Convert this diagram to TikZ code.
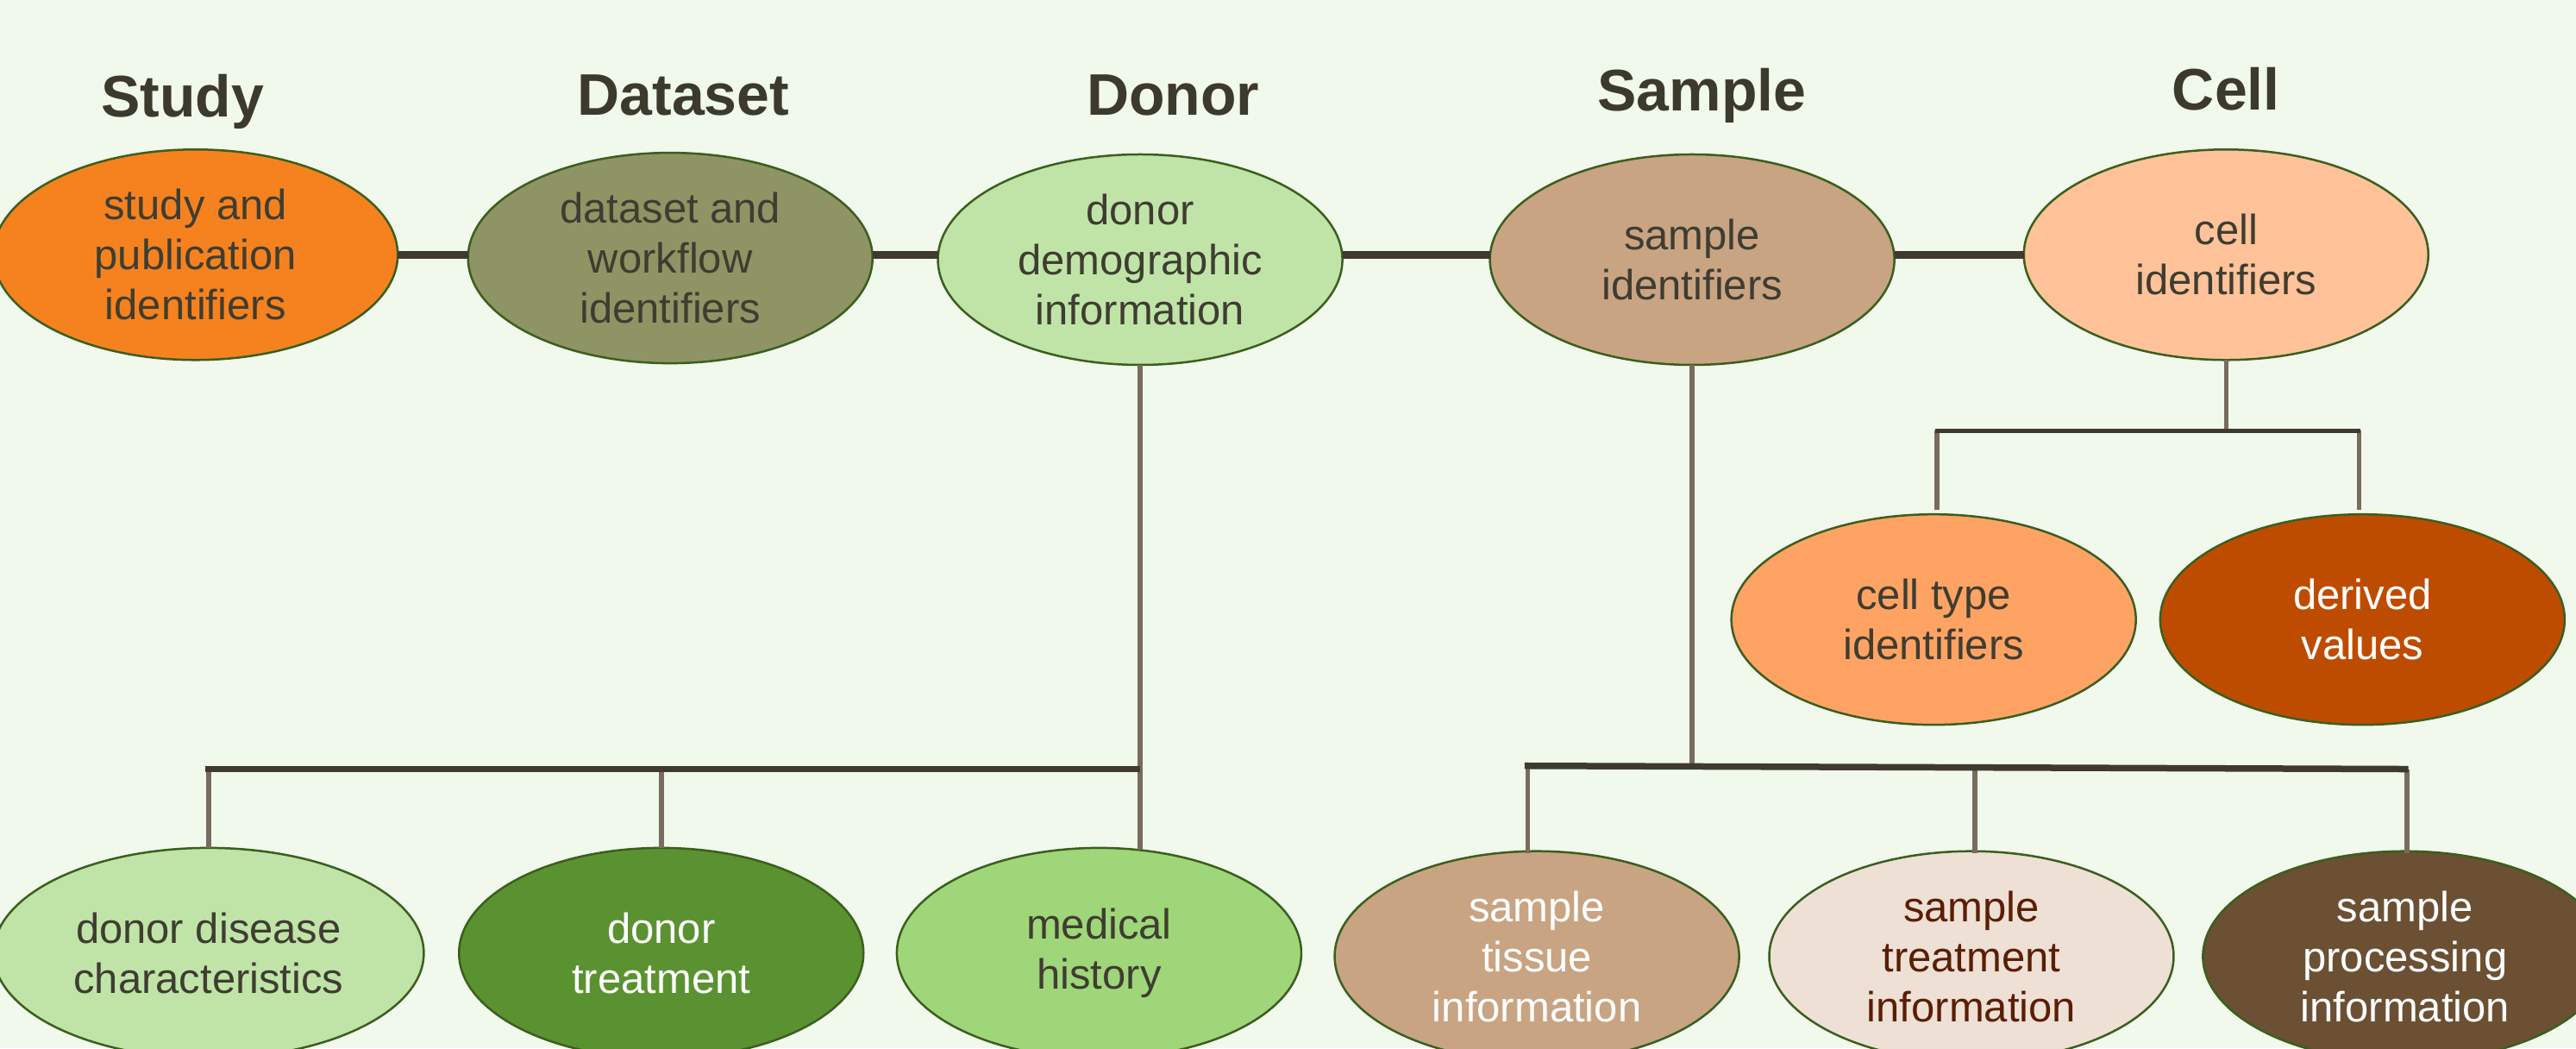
\documentclass[tikz,border=0pt]{standalone}
\usepackage{fontspec}
\setmainfont{Liberation Sans}
\usetikzlibrary{shapes.geometric}
\definecolor{bg}{HTML}{F1F8EC}
\definecolor{edgec}{HTML}{3A5F1E}
\definecolor{headc}{HTML}{3C3A2D}
\definecolor{txtc}{HTML}{3F3D31}
\definecolor{darkline}{HTML}{3E3B2E}
\definecolor{stemc}{HTML}{776C5E}
\definecolor{cStudy}{HTML}{F5821F}
\definecolor{cDataset}{HTML}{8F9465}
\definecolor{cDonor}{HTML}{C0E4A8}
\definecolor{cSample}{HTML}{C8A483}
\definecolor{cCell}{HTML}{FFC299}
\definecolor{cCtype}{HTML}{FFA365}
\definecolor{cDerived}{HTML}{BE4C00}
\definecolor{cDisease}{HTML}{C0E4A8}
\definecolor{cDtreat}{HTML}{5B9231}
\definecolor{cMed}{HTML}{9FD67A}
\definecolor{cTissue}{HTML}{C8A483}
\definecolor{cStreat}{HTML}{EEE0D5}
\definecolor{cStreatTxt}{HTML}{5A1E05}
\definecolor{cProc}{HTML}{6B5033}
\tikzset{
  blob/.style={ellipse, minimum width=469pt, minimum height=244pt, inner sep=0pt, outer sep=0pt,
    draw=edgec, line width=2.5pt, align=center, text=txtc, font=\fontsize{49}{58}\selectfont},
  heading/.style={anchor=base, text=headc, font=\fontsize{68}{80}\selectfont\bfseries},
  mainlink/.style={draw=darkline, line width=8.5pt},
  barline/.style={draw=darkline, line width=7.5pt},
  thinbar/.style={draw=darkline, line width=5pt},
  stemline/.style={draw=stemc, line width=5.5pt}
}
\begin{document}
\begin{tikzpicture}[x=1.905pt, y=-1.905pt]
\path[use as bounding box, fill=bg] (0,0) rectangle (1568,638);
\clip (0,0) rectangle (1568,638);

% headings
\node[heading] (hStudy) at (111,71) {Study};
\node[heading] (hDataset) at (416,70) {Dataset};
\node[heading] (hDonor) at (714,70) {Donor};
\node[heading] (hSample) at (1036,67.5) {Sample};
\node[heading] (hCell) at (1355,67) {Cell};

% top row
\node[blob, fill=cStudy] (study) at (119,155) {study and\\publication\\identifiers};
\node[blob, fill=cDataset] (dataset) at (408,157) {dataset and\\workflow\\identifiers};
\node[blob, fill=cDonor] (donor) at (694,158) {donor\\demographic\\information};
\node[blob, fill=cSample] (sample) at (1030,158) {sample\\identifiers};
\node[blob, fill=cCell] (cell) at (1355,155) {cell\\identifiers};

% cell children
\node[blob, fill=cCtype] (ctype) at (1177,377) {cell type\\identifiers};
\node[blob, fill=cDerived, text=white] (derived) at (1438,377) {derived\\values};

% donor children
\node[blob, fill=cDisease, minimum width=499pt] (disease) at (127,580) {donor disease\\characteristics};
\node[blob, fill=cDtreat, text=white] (dtreat) at (402.5,580) {donor\\treatment};
\node[blob, fill=cMed] (medhist) at (669,580) {medical\\history};

% sample children
\node[blob, fill=cTissue, text=white] (tissue) at (935.5,582) {sample\\tissue\\information};
\node[blob, fill=cStreat, text=cStreatTxt] (streat) at (1200,582) {sample\\treatment\\information};
\node[blob, fill=cProc, text=white] (sproc) at (1464,582) {sample\\processing\\information};

% main chain (horizontal at the row's height)
\draw[mainlink] (study.east) -- (study.east -| dataset.west);
\draw[mainlink] (dataset.east |- study.east) -- (study.east -| donor.west);
\draw[mainlink] (donor.east |- study.east) -- (study.east -| sample.west);
\draw[mainlink] (sample.east |- study.east) -- (cell.west);

% donor tree
\coordinate (dbarL) at (125,468);
\coordinate (dbarR) at (694,468);
\coordinate (dmedTop) at (694,517);
\draw[stemline] (donor.south) -- (dmedTop);
\draw[stemline] (disease.north |- dbarL) -- (disease.north);
\draw[stemline] (dtreat.north |- dbarL) -- (dtreat.north);
\draw[barline] (dbarL) -- (dbarR);

% sample tree
\coordinate (sbarL) at (928,466);
\coordinate (sbarR) at (1466,468);
\coordinate (sA1) at (930,466);   \coordinate (sA2) at (930,519);
\coordinate (sB1) at (1202,467);  \coordinate (sB2) at (1202,519);
\coordinate (sC1) at (1465,468);  \coordinate (sC2) at (1465,519);
\draw[stemline] (sample.south) -- (sample.south |- sbarL);
\draw[stemline] (sA1) -- (sA2);
\draw[stemline] (sB1) -- (sB2);
\draw[stemline] (sC1) -- (sC2);
\draw[barline] (sbarL) -- (sbarR);

% cell tree
\coordinate (cbarL) at (1178,262);
\coordinate (cbarR) at (1437,262);
\coordinate (cA1) at (1179,262);  \coordinate (cA2) at (1179,310);
\coordinate (cB1) at (1436,262);  \coordinate (cB2) at (1436,310);
\draw[stemline] (cell.south) -- (cell.south |- cbarL);
\draw[stemline] (cA1) -- (cA2);
\draw[stemline] (cB1) -- (cB2);
\draw[thinbar] (cbarL) -- (cbarR);
\end{tikzpicture}
\end{document}
